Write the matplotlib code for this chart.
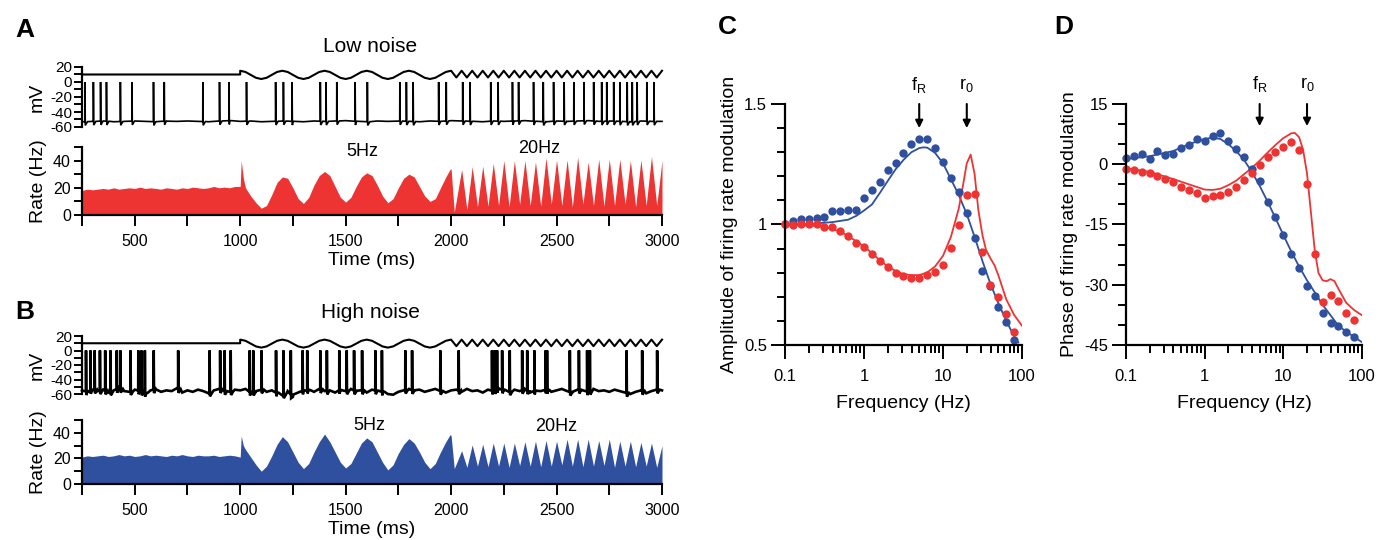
import matplotlib
matplotlib.use("Agg")
import matplotlib.pyplot as plt
import numpy as np
from matplotlib.ticker import FixedLocator, NullFormatter, FixedFormatter

plt.rcParams['font.family'] = ['Liberation Sans', 'DejaVu Sans']
plt.rcParams['mathtext.fontset'] = 'custom'
plt.rcParams['mathtext.rm'] = 'Liberation Sans'

RED = "#EE3333"
BLUE = "#2F4F9F"
W, H = 1388, 540

# ── Voltage traces (A, B) ────────────────────────────────
STIM_T = [250, 1000, 1000, 1025, 1050, 1075, 1100, 1125, 1150, 1175, 1200, 1225, 1250,
          1275, 1300, 1325, 1350, 1375, 1400, 1425, 1450, 1475, 1500, 1525, 1550, 1575,
          1600, 1625, 1650, 1675, 1700, 1725, 1750, 1775, 1800, 1825, 1850, 1875, 1900,
          1925, 1950, 1975, 2000, 2025, 2050, 2075, 2100, 2125, 2150, 2175, 2200, 2225,
          2250, 2275, 2300, 2325, 2350, 2375, 2400, 2425, 2450, 2475, 2500, 2525, 2550,
          2575, 2600, 2625, 2650, 2675, 2700, 2725, 2750, 2775, 2800, 2825, 2850, 2875,
          2900, 2925, 2950, 2975, 3000]
STIM_MV = [10, 10, 15, 13.4, 9.5, 5.6, 4, 5.6, 9.5, 13.4, 15, 13.4, 9.5,
           5.6, 4, 5.6, 9.5, 13.4, 15, 13.4, 9.5, 5.6, 4, 5.6, 9.5, 13.4,
           15, 13.4, 9.5, 5.6, 4, 5.6, 9.5, 13.4, 15, 13.4, 9.5, 5.6, 4,
           5.6, 9.5, 13.4, 15, 6, 15, 6, 15, 6, 15, 6, 15, 6,
           15, 6, 15, 6, 15, 6, 15, 6, 15, 6, 15, 6, 15,
           6, 15, 6, 15, 6, 15, 6, 15, 6, 15, 6, 15, 6,
           15, 6, 15, 6, 15]

A_BASE_T = list(range(250, 3001, 50))
A_BASE_MV = [-53, -52.5, -52, -53, -52.5, -52, -52.5, -53, -52, -52.5,
             -52, -52.5, -53, -52, -51.5, -52.5, -52, -53, -52.5, -52,
             -52.5, -53, -52, -52.5, -52, -51.5, -52.5, -53, -52, -52.5,
             -52, -52.5, -53, -52, -52.5, -51.5, -52, -52.5, -53, -52,
             -52.5, -52, -51.5, -52.5, -53, -52, -52.5, -52, -51.5, -52.5,
             -52, -52.5, -53, -52, -52.5, -52.5]
A_SPIKES = [264, 304, 338, 366, 432, 487, 589, 640, 823, 902, 947, 1030, 1168, 1205,
            1246, 1380, 1407, 1458, 1545, 1603, 1757, 1788, 1820, 1941, 1977, 2055,
            2090, 2188, 2223, 2291, 2320, 2391, 2437, 2486, 2536, 2582, 2630, 2676,
            2714, 2738, 2771, 2800, 2835, 2859, 2882, 2928, 2962]

B_BASE_T = list(range(250, 3001, 25))
B_BASE_MV = [-55, -57, -53, -56, -54, -58, -55, -52, -56, -57,
             -54, -56, -59, -55, -53, -57, -55, -56, -52, -58,
             -55, -57, -54, -56, -59, -55, -53, -56, -57, -54,
             -55, -53, -58, -56, -54, -57, -55, -59, -62, -56,
             -64, -58, -55, -54, -57, -53, -56, -55, -58, -54,
             -56, -53, -57, -55, -58, -54, -56, -57, -60, -61,
             -57, -55, -53, -56, -54, -57, -55, -53, -56, -58,
             -55, -54, -57, -53, -56, -55, -58, -54, -56, -52,
             -55, -57, -54, -56, -53, -58, -55, -56, -54, -57,
             -55, -53, -56, -58, -54, -55, -57, -53, -56, -55,
             -57, -54, -56, -58, -60, -57, -55, -59, -56, -54, -55]
B_SPIKES = [269, 290, 310, 335, 360, 385, 415, 432, 480, 517, 532, 548, 590, 706,
            855, 905, 926, 955, 1045, 1062, 1101, 1170, 1205, 1240, 1296, 1318,
            1380, 1411, 1470, 1505, 1540, 1578, 1641, 1672, 1783, 1815, 1949, 2036,
            2194, 2207, 2218, 2242, 2278, 2337, 2361, 2395, 2448, 2455, 2563, 2606,
            2645, 2658, 2832, 2906, 2977]

# ── Firing rates (A red, B blue) ─────────────────────────
RATE_T = [250, 275, 300, 325, 350, 375, 400, 425, 450, 475, 500, 525, 550, 575, 600,
          625, 650, 675, 700, 725, 750, 775, 800, 825, 850, 875, 900, 925, 950, 975,
          1000, 1005, 1015, 1025, 1050, 1075, 1100, 1125, 1150, 1175, 1200, 1225, 1250,
          1275, 1300, 1325, 1350, 1375, 1400, 1425, 1450, 1475, 1500, 1525, 1550, 1575,
          1600, 1625, 1650, 1675, 1700, 1725, 1750, 1775, 1800, 1825, 1850, 1875, 1900,
          1925, 1950, 1975, 1995, 2000,
          2015, 2050, 2075, 2100, 2125, 2150, 2175, 2200, 2225, 2250, 2275, 2300, 2325,
          2350, 2375, 2400, 2425, 2450, 2475, 2500, 2525, 2550, 2575, 2600, 2625, 2650,
          2675, 2700, 2725, 2750, 2775, 2800, 2825, 2850, 2875, 2900, 2925, 2950, 2975, 3000]
RATE_A = [18, 19, 18.5, 19, 19.5, 19, 20, 19, 19.5, 20, 19.5, 20.5, 19.5, 20, 19.5,
          19, 20, 19.5, 19, 20, 19.5, 20.5, 20, 19.5, 20, 21, 20, 20.5, 20, 21,
          21, 40, 27, 20, 14, 9, 5, 7, 15, 24, 28, 27, 20,
          12, 8.5, 13, 22, 29, 32, 29, 21, 13, 9.5, 13, 21, 28,
          31, 29, 22, 14, 9, 12, 20, 27, 30, 28, 21, 14, 10,
          12, 20, 28, 33.5, 34,
          2, 33.5, 4, 35.5, 6, 36, 6.5, 38, 7, 40, 6, 40, 8,
          40, 7, 39, 6.5, 42, 8, 40.5, 7, 40.5, 6, 42.5, 8, 39,
          7, 41, 6.5, 41, 7, 41, 8, 40, 6, 40.5, 7, 43, 7, 40]
RATE_B = [21, 22, 21.5, 22, 22.5, 21.5, 22, 23, 22, 22.5, 21.5, 22, 23, 22, 22.5,
          22, 21.5, 22.5, 22, 23, 22, 21.5, 22.5, 22, 22, 22.5, 21.5, 22, 22.5, 22,
          21, 37.5, 30, 27, 21, 15, 10, 14, 22, 31, 37, 33, 25,
          17, 12, 16, 25, 33, 39, 33, 25, 17, 12.5, 16, 24, 32,
          36, 33, 25, 17, 11, 15, 24, 31, 35.5, 32, 25, 17, 12,
          16, 25, 33, 38.5, 38,
          12, 26, 13, 30.5, 14, 31, 13.5, 32, 14, 32, 13, 32, 14.5,
          33, 14, 33.5, 13.5, 34, 14, 33.5, 15, 35, 14, 35, 13.5, 35,
          14, 34, 14.5, 35, 13, 33.5, 14, 33.5, 13.5, 32.5, 14, 32, 13, 30]

# ── Frequency responses (C, D) ───────────────────────────
FREQ = [0.1, 0.126, 0.158, 0.2, 0.251, 0.316, 0.398, 0.501, 0.631, 0.794, 1.0, 1.26,
        1.58, 2.0, 2.51, 3.16, 3.98, 5.01, 6.31, 7.94, 10.0, 12.6, 15.8, 20.0, 25.1,
        31.6, 39.8, 50.1, 63.1, 79.4]
C_BLUE_DOTS = [1.004, 1.014, 1.022, 1.022, 1.029, 1.033, 1.054, 1.058, 1.062, 1.062,
               1.112, 1.145, 1.178, 1.228, 1.257, 1.297, 1.333, 1.355, 1.355, 1.317,
               1.259, 1.193, 1.135, 1.048, 0.943, 0.809, 0.746, 0.659, 0.596, 0.522]
C_RED_DOTS = [1.0, 0.997, 1.004, 1.0, 1.0, 0.99, 0.99, 0.971, 0.952, 0.925,
              0.906, 0.877, 0.848, 0.822, 0.8, 0.786, 0.778, 0.778, 0.79, 0.804,
              0.833, 0.903, 0.997, 1.123, 1.128, 0.887, 0.749, 0.7, 0.628, 0.555]
C_BLUE_FIT_F = [0.1, 0.2, 0.4, 0.63, 0.8, 1, 1.26, 1.58, 2, 2.51, 3.16, 3.98, 5.01,
                5.6, 6.31, 7.94, 10, 12.6, 15.8, 20, 25.1, 31.6, 39.8, 50.1, 63.1, 79.4, 90]
C_BLUE_FIT = [1.0, 1.002, 1.01, 1.02, 1.036, 1.058, 1.083, 1.13, 1.181, 1.229, 1.268,
              1.3, 1.317, 1.32, 1.319, 1.297, 1.254, 1.188, 1.123, 1.043, 0.949, 0.848,
              0.754, 0.674, 0.601, 0.536, 0.51]
C_RED_FIT_F = [0.1, 0.3, 0.5, 0.63, 0.8, 1, 1.26, 1.58, 2, 2.51, 3.16, 3.98, 5.01, 6.31,
               7.94, 10, 12.6, 15.8, 18, 20, 22.4, 25.1, 28, 31.6, 35, 39.8, 45, 50.1,
               63.1, 79.4, 100]
C_RED_FIT = [1.0, 0.993, 0.971, 0.952, 0.93, 0.909, 0.881, 0.852, 0.826, 0.807, 0.794,
             0.79, 0.79, 0.801, 0.826, 0.87, 0.949, 1.065, 1.167, 1.254, 1.29, 1.21,
             1.06, 0.955, 0.895, 0.86, 0.83, 0.79, 0.69, 0.625, 0.58]

D_BLUE_DOTS = [1.57, 2.0, 2.6, 1.4, 3.3, 2.4, 2.6, 4.0, 4.8, 6.2, 5.9, 7.0, 7.7, 5.9,
               3.9, 1.8, -1.2, -4.1, -9.3, -13.2, -17.7, -22.3, -25.8, -30.2, -32.8,
               -37.0, -39.5, -40.2, -41.8, -43.0]
D_RED_DOTS = [-1.2, -1.5, -1.9, -2.3, -3.0, -3.7, -4.5, -5.6, -6.3, -7.1, -8.3, -8.0,
              -7.7, -7.0, -5.6, -3.9, -2.3, -0.2, 1.7, 3.1, 4.4, 5.5, 3.5, -4.8, -22.3,
              -34.3, -32.6, -34.1, -37.1, -38.7]
D_BLUE_FIT_F = [0.1, 0.2, 0.4, 0.63, 1, 1.26, 1.58, 2, 2.51, 3.16, 3.98, 5.01, 6.31,
                7.94, 10, 12.6, 15.8, 20, 25.1, 31.6, 39.8, 50.1, 63.1, 79.4, 100]
D_BLUE_FIT = [1.3, 2.0, 3.3, 5.0, 6.3, 6.6, 6.3, 5.0, 3.3, 1.1, -1.9, -5.4, -9.3,
              -13.4, -17.6, -21.7, -25.4, -28.9, -31.9, -35.0, -37.6, -40.2, -41.7,
              -43.0, -44.3]
D_RED_FIT_F = [0.1, 0.2, 0.4, 0.63, 1, 1.26, 1.58, 2, 2.51, 3.16, 3.98, 5.01, 6.31,
               7.94, 10, 12.6, 14, 15.8, 17.8, 20, 22.4, 25.1, 28, 31.6, 35.5, 39.8,
               44.7, 50.1, 63.1, 79.4, 100]
D_RED_FIT = [-1.0, -1.9, -3.7, -5.0, -6.3, -6.4, -6.1, -5.2, -4.1, -2.5, -0.9, 0.9,
             2.9, 4.8, 6.5, 7.7, 7.8, 6.8, 3.7, -2.3, -11.9, -21.5, -27.1, -28.9,
             -29.1, -28.6, -29.1, -31.0, -34.5, -36.3, -37.6]

F_R, R_0 = 5, 20

TICK_FS = 11.5
LABEL_FS = 14


def px_axes(fig, left, top, right, bottom):
    return fig.add_axes([left / W, 1 - bottom / H, (right - left) / W, (bottom - top) / H])


def style_spines(ax, lw=1.6):
    for s in ("top", "right"):
        ax.spines[s].set_visible(False)
    for s in ("left", "bottom"):
        ax.spines[s].set_linewidth(lw)
    ax.tick_params(which="both", direction="out", width=1.4, labelsize=TICK_FS, pad=2)
    ax.tick_params(which="both", length=6)


def voltage_trace(base_t, base_v, spikes):
    pts = list(zip(base_t, base_v))
    for s in spikes:
        b = float(np.interp(s, base_t, base_v))
        pts += [(s - 0.6, b), (s, 0.0), (s + 1.6, b - 5), (s + 12, b)]
    pts.sort()
    t, v = zip(*pts)
    return t, v


def draw_mv(ax, base_t, base_v, spikes, lw):
    style_spines(ax)
    ax.spines["bottom"].set_visible(False)
    ax.set_xlim(250, 3000)
    ax.set_ylim(-60, 20)
    ax.set_xticks([])
    ax.yaxis.set_major_locator(FixedLocator([-60, -40, -20, 0, 20]))
    ax.yaxis.set_major_formatter(FixedFormatter(["-60", "-40", "-20", "0", "20"]))
    ax.yaxis.set_minor_locator(FixedLocator([-50, -30, -10, 10]))
    ax.tick_params(axis="y", labelsize=11, pad=1)
    ax.set_ylabel("mV", fontsize=LABEL_FS, labelpad=3)
    ax.patch.set_alpha(0)
    ax.plot(STIM_T, STIM_MV, color="black", lw=1.5, clip_on=False)
    t, v = voltage_trace(base_t, base_v, spikes)
    ax.plot(t, v, color="black", lw=lw, clip_on=False, solid_joinstyle="miter")


def draw_rate(ax, rate, color, lab5, lab20):
    style_spines(ax)
    ax.fill_between(RATE_T, 0, rate, color=color, lw=0)
    ax.set_xlim(250, 3000)
    ax.set_ylim(0, 50)
    ax.xaxis.set_major_locator(FixedLocator([500, 1000, 1500, 2000, 2500, 3000]))
    ax.xaxis.set_minor_locator(FixedLocator([250, 750, 1250, 1750, 2250, 2750]))
    ax.yaxis.set_major_locator(FixedLocator([0, 20, 40]))
    ax.yaxis.set_minor_locator(FixedLocator([10, 30, 50]))
    ax.tick_params(axis="x", which="both", length=8, pad=6)
    ax.set_xlabel("Time (ms)", fontsize=LABEL_FS, labelpad=2)
    ax.set_ylabel("Rate (Hz)", fontsize=LABEL_FS, labelpad=4)
    ax.text(lab5[0], lab5[1], "5Hz", fontsize=LABEL_FS - 1, ha="center", va="center")
    ax.text(lab20[0], lab20[1], "20Hz", fontsize=LABEL_FS - 1, ha="center", va="center")


def draw_freq(ax, blue_dots, red_dots, bf_f, bf, rf_f, rf, ylim, majors, minors,
              ylabels, ylabel, arrow_top, arrow_bot, lab_y):
    style_spines(ax)
    ax.set_xscale("log")
    ax.set_xlim(0.1, 100)
    ax.set_ylim(*ylim)
    ax.plot(bf_f, bf, color=BLUE, lw=1.3)
    ax.plot(rf_f, rf, color=RED, lw=1.3)
    ax.plot(FREQ, blue_dots, "o", color=BLUE, ms=6, mew=0, clip_on=False)
    ax.plot(FREQ, red_dots, "o", color=RED, ms=6, mew=0, clip_on=False)
    ax.xaxis.set_major_locator(FixedLocator([0.1, 1, 10, 100]))
    ax.xaxis.set_major_formatter(FixedFormatter(["0.1", "1", "10", "100"]))
    ax.xaxis.set_minor_locator(FixedLocator(
        [m * d for d in (0.1, 1, 10) for m in range(2, 10)]))
    ax.xaxis.set_minor_formatter(NullFormatter())
    ax.tick_params(axis="x", which="major", length=10, pad=7)
    ax.tick_params(axis="x", which="minor", length=6)
    ax.yaxis.set_major_locator(FixedLocator(majors))
    ax.yaxis.set_major_formatter(FixedFormatter(ylabels))
    ax.yaxis.set_minor_locator(FixedLocator(minors))
    ax.tick_params(axis="y", which="major", length=10, pad=3)
    ax.tick_params(axis="y", which="minor", length=6)
    ax.tick_params(labelsize=12)
    ax.set_xlabel("Frequency (Hz)", fontsize=LABEL_FS, labelpad=8)
    ax.set_ylabel(ylabel, fontsize=LABEL_FS, labelpad=4)
    for f, lab in ((F_R, r"f$_\mathrm{R}$"), (R_0, r"r$_\mathrm{0}$")):
        ax.annotate("", xy=(f, arrow_bot), xytext=(f, arrow_top), annotation_clip=False,
                    arrowprops=dict(arrowstyle="-|>", color="black", lw=1.5,
                                    mutation_scale=11, shrinkA=0, shrinkB=0))
        ax.text(f, lab_y, lab, fontsize=LABEL_FS - 1, ha="center", va="center")


fig = plt.figure(figsize=(W / 100, H / 100), dpi=100, facecolor="white")

# Panel A
ax = px_axes(fig, 82, 67, 662, 127)
draw_mv(ax, A_BASE_T, A_BASE_MV, A_SPIKES, 1.2)
ax = px_axes(fig, 82, 147, 662, 215)
draw_rate(ax, RATE_A, RED, (1580, 47), (2420, 49))

# Panel B
ax = px_axes(fig, 82, 336, 662, 394)
draw_mv(ax, B_BASE_T, B_BASE_MV, B_SPIKES, 1.9)
ax = px_axes(fig, 82, 420, 662, 484)
draw_rate(ax, RATE_B, BLUE, (1610, 46), (2500, 45))

# Panel C
ax = px_axes(fig, 785, 104, 1022, 345)
draw_freq(ax, C_BLUE_DOTS, C_RED_DOTS, C_BLUE_FIT_F, C_BLUE_FIT, C_RED_FIT_F, C_RED_FIT,
          (0.5, 1.5), [0.5, 1, 1.5], [0.6, 0.7, 0.8, 0.9, 1.1, 1.2, 1.3, 1.4],
          ["0.5", "1", "1.5"], "Amplitude of firing rate modulation", 1.5, 1.40, 1.58)

# Panel D
ax = px_axes(fig, 1126, 104, 1362, 345)
draw_freq(ax, D_BLUE_DOTS, D_RED_DOTS, D_BLUE_FIT_F, D_BLUE_FIT, D_RED_FIT_F, D_RED_FIT,
          (-45, 15), [-45, -30, -15, 0, 15], [-40, -35, -25, -20, -10, -5, 5, 10],
          ["-45", "-30", "-15", "0", "15"], "Phase of firing rate modulation",
          15, 9.5, 20)

# Titles and panel letters
fig.text(370 / W, 1 - 47 / H, "Low noise", fontsize=LABEL_FS + 1, ha="center", va="center")
fig.text(370 / W, 1 - 313 / H, "High noise", fontsize=LABEL_FS + 1, ha="center", va="center")
for lab, x, y in (("A", 25, 30), ("B", 25, 312), ("C", 727, 27), ("D", 1064, 27)):
    fig.text(x / W, 1 - y / H, lab, fontsize=19, fontweight="bold", ha="center", va="center")

fig.savefig("out.png", dpi=100, facecolor="white")
